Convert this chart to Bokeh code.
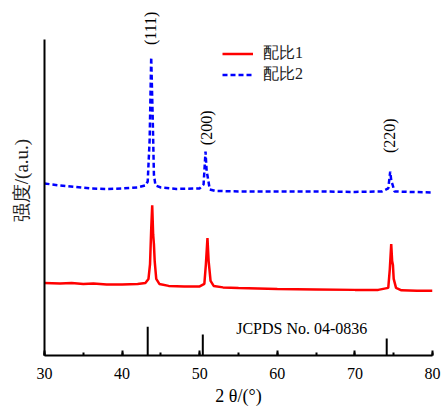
import math
from bokeh.plotting import figure
from bokeh.models import (Range1d, SingleIntervalTicker, FixedTicker, Legend,
                          LegendItem, Label)
from bokeh.embed import file_html
from bokeh.resources import INLINE

# ---- data (2θ in degrees, intensity in arbitrary units) ----
x_ratio1 = [30, 32, 33.5, 35, 36.3, 38, 40, 42, 43.0, 43.4, 43.6, 43.75, 43.88,
            44.0, 44.1, 44.2, 44.4, 44.8, 46, 48, 50, 50.6, 50.8, 51.0, 51.15,
            51.25, 51.4, 51.8, 53, 55, 60, 65, 70, 73, 74.3, 74.5, 74.68, 74.8,
            74.9, 75.0, 75.3, 76, 78, 80]
y_ratio1 = [73, 72.5, 73, 72, 72.5, 71.5, 71.5, 72, 73, 77, 92, 127, 151,
            122, 112, 95, 77, 72, 70, 69.5, 69.5, 72, 92, 118, 95,
            87, 75, 70, 68.5, 68, 67, 66.5, 66, 66, 68, 87, 112, 95,
            91, 77, 68, 65.5, 65, 65]

x_ratio2 = [30, 31, 32, 34, 36, 38, 40, 42, 43.0, 43.3, 43.55, 43.75, 43.95,
            44.1, 44.3, 45, 47, 50, 50.5, 50.75, 50.9, 51.0, 51.3, 52, 55, 60,
            65, 70, 73.5, 74.3, 74.55, 74.7, 74.85, 75.1, 77, 80]
y_ratio2 = [173, 172, 171, 169.5, 168, 167.5, 168, 169, 171, 175, 217, 300, 237,
            182, 171, 169, 167.5, 168, 172, 205, 185, 181, 167, 165.5, 165, 165,
            165, 164.5, 165, 168, 185, 175, 172, 165, 164.5, 164]

ref_pos = [43.3, 50.4, 74.1]
ref_height = [29, 21, 17]

peak_labels = ["(111)", "(200)", "(220)"]
peak_label_x = [43.7, 50.85, 74.5]
peak_label_y = [329, 229, 221]

series_names = ["配比1", "配比2"]
x_ticks_interval = 10
y_axis_top = 318

FONT = "Liberation Serif"

p = figure(width=441, height=409, x_range=Range1d(30, 80), y_range=Range1d(0, 352),
           output_backend="svg", toolbar_location=None,
           min_border_left=44, min_border_right=9, min_border_top=5,
           min_border_bottom=54)
p.background_fill_color = "white"
p.border_fill_color = "white"
p.outline_line_color = None
p.xgrid.visible = False
p.ygrid.visible = False

# x axis
xa = p.xaxis[0]
xa.ticker = SingleIntervalTicker(interval=x_ticks_interval, num_minor_ticks=2)
xa.axis_line_width = 2
xa.axis_line_color = "black"
xa.major_tick_in = 5
xa.major_tick_out = 0
xa.minor_tick_in = 3
xa.minor_tick_out = 0
xa.major_tick_line_width = 2
xa.minor_tick_line_width = 2
xa.major_tick_line_color = "black"
xa.minor_tick_line_color = "black"
xa.major_label_text_font = FONT
xa.major_label_text_font_size = "16px"
xa.major_label_text_color = "black"
xa.major_label_standoff = 12
xa.axis_label = "2 θ/(°)"
xa.axis_label_text_font = FONT
xa.axis_label_text_font_size = "18px"
xa.axis_label_text_font_style = "normal"
xa.axis_label_text_color = "black"
xa.axis_label_standoff = 4

# y axis
ya = p.yaxis[0]
ya.ticker = FixedTicker(ticks=[])
ya.bounds = (0, y_axis_top)
ya.axis_line_width = 2
ya.axis_line_color = "black"
ya.major_tick_in = 0
ya.major_tick_out = 0
ya.minor_tick_in = 0
ya.minor_tick_out = 0
ya.major_label_text_font_size = "0px"
ya.axis_label = "强度/(a.u.)"
ya.axis_label_text_font = FONT
ya.axis_label_text_font_size = "19px"
ya.axis_label_text_font_style = "normal"
ya.axis_label_text_color = "#222222"
ya.axis_label_standoff = 13

# reference sticks
p.segment(x0=ref_pos, y0=[0] * len(ref_pos), x1=ref_pos, y1=ref_height,
          line_color="black", line_width=2)

# curves
r1 = p.line(x_ratio1, y_ratio1, line_color="#ff0000", line_width=2.5)
r2 = p.line(x_ratio2, y_ratio2, line_color="#0000ff", line_width=2.5, line_dash="5 3")

legend = Legend(items=[LegendItem(label=series_names[0], renderers=[r1]),
                       LegendItem(label=series_names[1], renderers=[r2])],
                location=(178, 270), orientation="vertical",
                border_line_color=None, background_fill_alpha=0,
                padding=0, margin=0, spacing=-4,
                glyph_width=31, glyph_height=19, label_height=19,
                label_standoff=10, label_text_font=FONT,
                label_text_font_size="16px", label_text_color="#222222")
p.add_layout(legend)

for t, lx, ly in zip(peak_labels, peak_label_x, peak_label_y):
    p.add_layout(Label(x=lx, y=ly, text=t, angle=math.pi / 2,
                       text_align="center", text_baseline="middle",
                       text_font=FONT, text_font_size="16px", text_color="black"))

p.add_layout(Label(x=54.7, y=27, text="JCPDS No. 04-0836", text_align="left",
                   text_baseline="middle", text_font=FONT, text_font_size="16px",
                   text_color="black"))

open("out.html", "w").write(file_html(p, INLINE))
